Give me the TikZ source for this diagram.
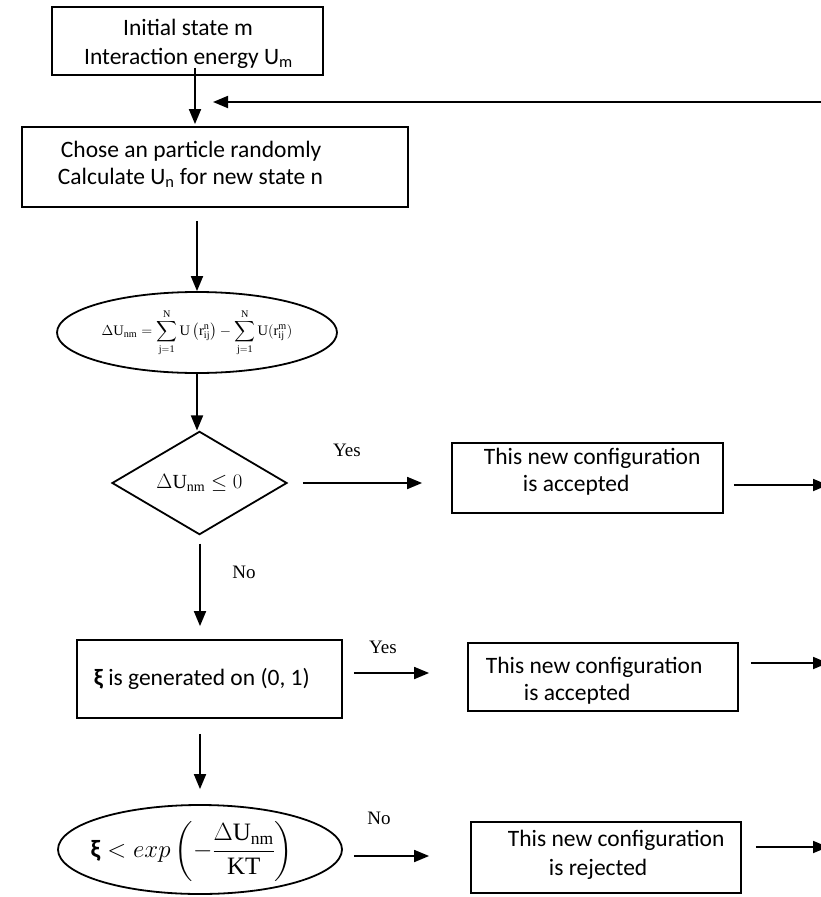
\documentclass[tikz,border=0pt]{standalone}
\usepackage{exscale}
\usepackage{amsmath,amssymb}
\usepackage{fontspec}
\setmainfont{Carlito}
\setmathrm{Liberation Serif}
\newfontfamily\labfont{Liberation Serif}
\usetikzlibrary{shapes.geometric,arrows.meta}
\begin{document}
\begin{tikzpicture}[x=1pt,y=-1pt,
  line width=1.8pt,
  arr/.style={-{Triangle[length=15pt,width=12pt]}, line width=1.8pt},
  boxst/.style={draw, rectangle, inner sep=0pt, line width=1.8pt},
  ellst/.style={draw, ellipse, inner sep=0pt, line width=1.8pt},
  diast/.style={draw, diamond, inner sep=0pt, line width=1.8pt},
  txt/.style={font=\fontsize{23.5}{28}\selectfont, inner sep=0pt},
  lab/.style={font=\labfont\fontsize{19}{22}\selectfont, inner sep=0pt},
]
\path[use as bounding box] (0,0) rectangle (821,897);

% boxes and shapes
\node[boxst, minimum width=271pt, minimum height=68pt] (box1) at (187.5,41) {};
\node[txt, anchor=base] (t1a) at (188,35) {Initial state m};
\node[txt, anchor=base] (t1b) at (188.5,64) {Interaction energy U\textsubscript{m}};

\node[boxst, minimum width=386pt, minimum height=80pt] (box2) at (215,167) {};
\node[txt, anchor=base west] (t2a) at (60,157) {Chose an particle randomly};
\node[txt, anchor=base west] (t2b) at (57,184) {Calculate U\textsubscript{n} for new state n};

\node[ellst, minimum width=280pt, minimum height=81pt] (ell1) at (197,332.5)
  {\fontsize{14.5}{17}\selectfont $\displaystyle \Delta\mathrm{U}_{\mathrm{nm}} = \sum_{\mathrm{j=1}}^{\mathrm{N}} \mathrm{U}\left(\mathrm{r}_{\mathrm{ij}}^{\mathrm{n}}\right) - \sum_{\mathrm{j=1}}^{\mathrm{N}} \mathrm{U}(\mathrm{r}_{\mathrm{ij}}^{\mathrm{m}})$};

\node[diast, minimum width=175pt, minimum height=102pt] (dia) at (199.5,483)
  {\fontsize{20}{24}\selectfont $\Delta\mathrm{U}_{\mathrm{nm}} \leq 0$};

\node[boxst, minimum width=265pt, minimum height=78pt] (box3) at (209.5,679) {};
\node[txt, anchor=base west] (t3) at (93,685) {{\bfseries ξ} is generated on (0, 1)};

\node[ellst, minimum width=284pt, minimum height=89pt] (ell2) at (200,849.5) {};
\node[inner sep=0pt, font=\fontsize{25}{30}\selectfont] (t4) at (192,851)
  {$\text{\textbf{ξ}} < exp\left(-\dfrac{\Delta\mathrm{U}_{\mathrm{nm}}}{\mathrm{KT}}\right)$};

\node[boxst, minimum width=271pt, minimum height=70pt] (acc1) at (587.5,478) {};
\node[txt, anchor=base west] (t5a) at (483,464) {This new configuration};
\node[txt, anchor=base west] (t5b) at (522,491) {is accepted};

\node[boxst, minimum width=270pt, minimum height=68pt] (acc2) at (603,677) {};
\node[txt, anchor=base west] (t6a) at (485,673) {This new configuration};
\node[txt, anchor=base west] (t6b) at (523,700) {is accepted};

\node[boxst, minimum width=270pt, minimum height=71pt] (rej) at (606,857.5) {};
\node[txt, anchor=base west] (t7a) at (507,846) {This new configuration};
\node[txt, anchor=base west] (t7b) at (548,875) {is rejected};

% labels
\node[lab] (yes1) at (347,450) {Yes};
\node[lab] (no1) at (244,572) {No};
\node[lab] (yes2) at (383,647) {Yes};
\node[lab] (no2) at (379,818) {No};

% coordinates
\coordinate (c1) at (195,0);
\coordinate (c3) at (200,0);
\coordinate (r0) at (821,102);
\coordinate (r1) at (213,102);
\coordinate (e1) at (828,485);
\coordinate (e2) at (828,663);
\coordinate (e3) at (828,847);

% connectors
\draw[arr] ([yshift=8pt]box1.south -| c1) -- ([yshift=2pt]box2.north -| c1);
\draw[arr] (r0) -- (r1);
\draw[arr] ([yshift=-13pt]box2.south -| ell1.north) -- (ell1.north);
\draw[arr] (ell1.south) -- (dia.north -| ell1.south);
\draw[arr] ([yshift=-8pt]dia.south -| c3) -- ([yshift=13pt]box3.north -| c3);
\draw[arr] ([yshift=-15pt]box3.south -| c3) -- ([yshift=15pt]ell2.north -| c3);
\draw[arr] ([xshift=15pt]dia.east) -- ([xshift=-29pt]acc1.west |- dia.east);
\draw[arr] ([shift={(11pt,6pt)}]box3.east) -- ([xshift=-38pt,yshift=6pt]box3.east -| acc2.west);
\draw[arr] ([shift={(11pt,-6.5pt)}]ell2.east) -- ([xshift=-41pt,yshift=-6.5pt]ell2.east -| rej.west);
\draw[arr] ([xshift=10pt]acc1.east |- e1) -- (e1);
\draw[arr] ([xshift=12pt]acc2.east |- e2) -- (e2);
\draw[arr] ([xshift=14pt]rej.east |- e3) -- (e3);
\end{tikzpicture}
\end{document}
